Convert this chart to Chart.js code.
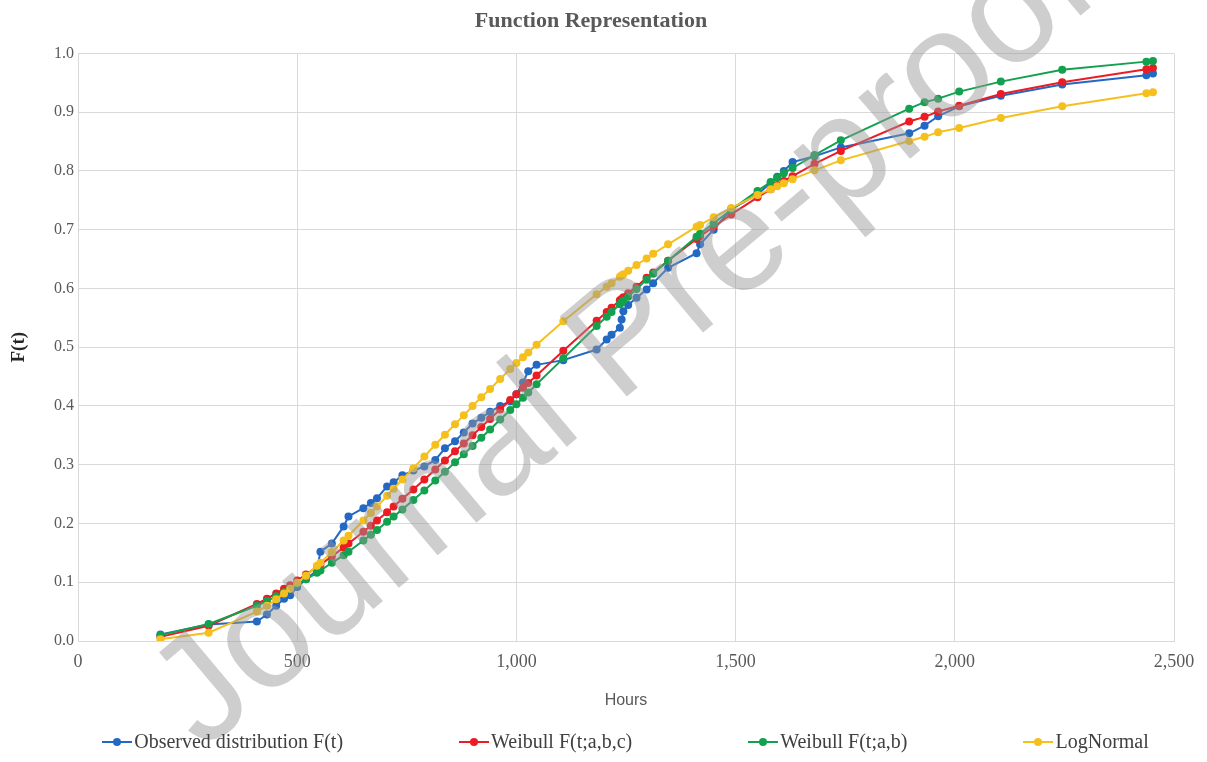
<!DOCTYPE html>
<html>
<head>
<meta charset="utf-8">
<script src="https://cdn.jsdelivr.net/npm/chart.js@4.4.1/dist/chart.umd.min.js"></script>
<style>
  html, body { margin: 0; padding: 0; background: #fff; }
  #wrap { position: relative; width: 1207px; height: 762px; }
  #legend {
    position: absolute; left: 44px; right: 0; top: 730px;
    display: flex; justify-content: center; gap: 116px;
    font-family: "Liberation Serif", serif; font-size: 20px; color: #404040;
  }
  .item { display: flex; align-items: center; white-space: nowrap; }
  .mark { position: relative; width: 30px; height: 10px; margin-right: 2px; }
  .mark i { position: absolute; left: 0; right: 0; top: 4px; height: 2px; }
  .mark b { position: absolute; left: 11px; top: 1px; width: 8px; height: 8px; border-radius: 50%; }
</style>
</head>
<body>
<div id="wrap">
  <canvas id="chart"></canvas>
  <div id="legend"></div>
</div>
<script>
// observed times (hours)
const hours = [188, 298, 408, 431, 452, 470, 484, 500, 520, 545, 553, 579, 606, 617, 651, 668, 682, 705, 720, 740,
  765, 790, 815, 837, 860, 880, 900, 920, 940, 963, 986, 1000, 1015, 1027, 1046, 1107, 1183, 1206, 1217, 1236,
  1240, 1244, 1255, 1274, 1297, 1312, 1346, 1411, 1419, 1450, 1490, 1550, 1580, 1595, 1610, 1630, 1680, 1740,
  1896, 1931, 1962, 2010, 2105, 2245, 2437, 2452];

const observed = [0.011, 0.028, 0.033, 0.045, 0.060, 0.072, 0.078, 0.092, 0.105, 0.120, 0.152, 0.166, 0.195, 0.212,
  0.226, 0.235, 0.243, 0.263, 0.270, 0.282, 0.290, 0.297, 0.308, 0.328, 0.340, 0.355, 0.370, 0.380, 0.390, 0.400,
  0.408, 0.420, 0.440, 0.459, 0.470, 0.478, 0.496, 0.513, 0.521, 0.533, 0.547, 0.561, 0.572, 0.584, 0.598, 0.609,
  0.635, 0.660, 0.675, 0.700, 0.735, 0.760, 0.780, 0.790, 0.800, 0.815, 0.825, 0.840, 0.864, 0.877, 0.893, 0.910,
  0.928, 0.947, 0.963, 0.966];

const weibull3 = [0.007, 0.026, 0.063, 0.072, 0.081, 0.089, 0.095, 0.103, 0.113, 0.126, 0.130, 0.144, 0.159, 0.166,
  0.186, 0.196, 0.205, 0.219, 0.229, 0.242, 0.258, 0.275, 0.292, 0.307, 0.323, 0.336, 0.350, 0.364, 0.378, 0.394,
  0.410, 0.420, 0.431, 0.439, 0.452, 0.494, 0.545, 0.560, 0.567, 0.580, 0.582, 0.585, 0.592, 0.603, 0.618, 0.627,
  0.647, 0.684, 0.689, 0.705, 0.726, 0.755, 0.769, 0.776, 0.783, 0.791, 0.812, 0.834, 0.884, 0.892, 0.901, 0.911,
  0.931, 0.951, 0.973, 0.975];

const weibull2 = [0.010, 0.029, 0.060, 0.068, 0.076, 0.083, 0.089, 0.096, 0.105, 0.116, 0.120, 0.133, 0.146, 0.152,
  0.171, 0.181, 0.189, 0.203, 0.212, 0.224, 0.240, 0.256, 0.273, 0.288, 0.304, 0.318, 0.332, 0.346, 0.360, 0.377,
  0.393, 0.403, 0.414, 0.423, 0.437, 0.481, 0.536, 0.552, 0.560, 0.573, 0.576, 0.579, 0.586, 0.599, 0.615, 0.625,
  0.647, 0.688, 0.693, 0.711, 0.734, 0.766, 0.781, 0.789, 0.796, 0.805, 0.827, 0.852, 0.906, 0.917, 0.923, 0.935,
  0.952, 0.972, 0.986, 0.987];

const lognormal = [0.003, 0.014, 0.050, 0.060, 0.071, 0.081, 0.089, 0.099, 0.111, 0.128, 0.133, 0.151, 0.171, 0.179,
  0.205, 0.218, 0.229, 0.247, 0.259, 0.275, 0.294, 0.314, 0.334, 0.351, 0.369, 0.384, 0.400, 0.415, 0.429, 0.446,
  0.463, 0.473, 0.483, 0.491, 0.504, 0.544, 0.590, 0.603, 0.609, 0.620, 0.622, 0.624, 0.630, 0.640, 0.651, 0.659,
  0.675, 0.705, 0.708, 0.721, 0.737, 0.759, 0.769, 0.774, 0.779, 0.786, 0.801, 0.818, 0.851, 0.858, 0.866, 0.873,
  0.890, 0.910, 0.932, 0.934];

const seriesNames = ["Observed distribution F(t)", "Weibull F(t;a,b,c)", "Weibull F(t;a,b)", "LogNormal"];
const seriesColors = ["#2369c3", "#ec1c24", "#13a14f", "#f5c01e"];

const serif = "'Liberation Serif', 'Times New Roman', serif";
const gray = "#595959";

function pts(values) {
  return hours.map((h, i) => ({ x: h, y: values[i] }));
}

function makeSet(idx, values) {
  return {
    label: seriesNames[idx],
    data: pts(values),
    borderColor: seriesColors[idx],
    backgroundColor: seriesColors[idx],
    borderWidth: 2,
    pointRadius: 4,
    pointBorderWidth: 0,
    pointHoverRadius: 4,
    // yellow on top, blue at the bottom
    order: 4 - idx,
  };
}

// watermark over the plot
const watermark = {
  id: "watermark",
  afterDraw(chart) {
    const ctx = chart.ctx;
    ctx.save();
    ctx.translate(203, 752);
    ctx.rotate(-40 * Math.PI / 180);
    ctx.font = "152px 'Liberation Sans', Arial, sans-serif";
    ctx.fillStyle = "rgba(150, 150, 150, 0.47)";
    ctx.textAlign = "left";
    ctx.textBaseline = "alphabetic";
    ctx.fillText("Journal Pre-proof", 0, 0);
    ctx.restore();
  },
};

const chart = new Chart(document.getElementById("chart"), {
  type: "line",
  data: {
    datasets: [
      makeSet(0, observed),
      makeSet(1, weibull3),
      makeSet(2, weibull2),
      makeSet(3, lognormal),
    ],
  },
  options: {
    responsive: true,
    maintainAspectRatio: false,
    animation: false,
    layout: { padding: { left: 8, right: 33, top: 0, bottom: 41 } },
    plugins: {
      legend: { display: false },
      tooltip: { enabled: false },
      title: {
        display: true,
        text: "Function Representation",
        color: gray,
        font: { family: serif, size: 22, weight: "bold" },
        padding: { top: 8, bottom: 19 },
      },
    },
    scales: {
      x: {
        type: "linear",
        min: 0,
        max: 2500,
        afterFit: (scale) => { scale.height = 80; },
        grid: { color: "#d9d9d9", drawTicks: false },
        border: { color: "#d9d9d9" },
        ticks: {
          stepSize: 500,
          padding: 10,
          color: gray,
          font: { family: serif, size: 18 },
          callback: (v) => v.toLocaleString("en-US"),
        },
        title: {
          display: true,
          text: "Hours",
          color: gray,
          font: { family: "'Liberation Sans', Arial, sans-serif", size: 16 },
          padding: { top: 0, bottom: 11 },
        },
      },
      y: {
        min: 0,
        max: 1,
        afterFit: (scale) => { scale.width = 70; },
        grid: { color: "#d9d9d9", drawTicks: false },
        border: { display: false },
        ticks: {
          stepSize: 0.1,
          padding: 4,
          color: gray,
          font: { family: serif, size: 16 },
          callback: (v) => v.toFixed(1),
        },
        title: {
          display: true,
          text: "F(t)",
          color: "#262626",
          font: { family: serif, size: 19, weight: "bold" },
          padding: { top: 0, bottom: 0 },
        },
      },
    },
  },
  plugins: [watermark],
});

// html legend built from the chart datasets
const legendBox = document.getElementById("legend");
chart.data.datasets.forEach((ds) => {
  const item = document.createElement("div");
  item.className = "item";
  item.innerHTML =
    '<span class="mark"><i style="background:' + ds.borderColor + '"></i><b style="background:' +
    ds.borderColor + '"></b></span><span>' + ds.label + "</span>";
  legendBox.appendChild(item);
});
</script>
</body>
</html>
